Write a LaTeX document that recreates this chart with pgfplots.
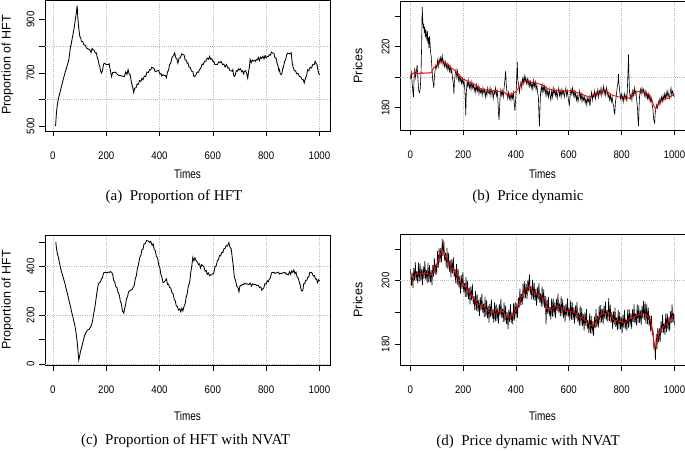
\documentclass[border=0pt]{standalone}
\usepackage{pgfplots}
\usepackage{pgfplotstable}
\pgfplotsset{compat=1.18}
\usepackage{fontspec}
\setmainfont{Liberation Serif}
\newfontfamily\rfont[FakeStretch=0.88]{Liberation Sans}
\newfontfamily\rlfont[FakeStretch=0.8]{Liberation Sans}
\newfontfamily\rvfont{Liberation Sans}
\newcommand\tfont{\rfont\fontsize{11}{13}\selectfont}
\newcommand\xlfont{\rlfont\fontsize{12.5}{14}\selectfont}
\newcommand\ylfont{\rvfont\fontsize{12.5}{14}\selectfont}
\newcommand\cfont{\fontsize{15}{17}\selectfont}

% (a) Proportion of HFT
\pgfplotstableread{
x y
10 500
13 545
16 575
20 600
25 620
30 640
35 660
40 680
45 698
50 715
55 732
60 750
65 790
70 815
75 842
80 870
85 905
88 925
91 952
94 900
97 868
101 836
104 833
107 818
112 817
117 804
122 803
126 793
130 791
135 788
139 786
143 776
147 791
151 786
155 785
159 774
163 775
167 756
170 748
173 731
176 724
179 706
182 699
186 708
190 733
195 736
199 731
203 731
207 731
211 734
215 712
220 686
224 701
228 701
233 703
238 699
243 693
248 690
253 691
258 688
263 687
268 686
273 703
278 694
282 712
286 696
290 693
295 662
299 648
303 626
307 643
312 644
316 658
320 656
325 671
330 668
334 679
338 674
343 688
348 686
353 703
358 701
363 712
367 711
371 721
376 718
380 715
384 704
388 706
393 708
397 709
401 696
405 698
409 688
413 693
417 690
421 691
426 682
430 703
434 711
438 731
442 736
447 758
452 764
457 775
461 756
465 753
469 736
473 755
478 756
483 771
488 768
492 768
496 748
500 748
504 736
507 737
511 721
515 721
520 706
525 706
528 688
532 686
536 691
541 703
546 702
550 712
555 718
560 733
564 731
569 743
574 744
579 755
584 751
588 762
592 751
596 753
600 743
604 743
608 731
613 731
617 731
622 741
626 738
631 743
636 731
641 733
646 722
651 731
656 718
660 719
664 708
668 708
672 706
675 712
678 691
681 687
684 691
688 708
692 706
696 715
700 711
704 715
708 704
712 708
715 696
719 706
723 708
727 698
731 680
734 703
737 721
740 750
744 738
748 748
752 744
756 747
760 743
763 750
767 748
771 758
775 746
779 759
783 754
788 762
792 752
796 765
800 756
804 761
808 761
812 768
816 766
820 778
825 774
829 773
833 756
837 756
841 736
845 725
848 708
850 712
853 696
856 693
859 696
862 715
865 721
869 743
873 748
877 768
881 774
885 773
889 771
894 775
898 736
902 718
906 708
910 708
915 696
920 698
925 686
930 685
935 674
939 675
943 662
947 678
952 691
956 712
960 708
965 721
970 718
975 731
980 731
984 743
987 736
991 731
995 706
1000 692
}\tA

% (c) Proportion of HFT with NVAT
\pgfplotstableread{
x y
11 500
14 470
17 452
20 441
24 420
28 398
32 380
36 365
40 350
45 332
49 312
53 295
57 277
61 258
65 240
70 215
74 198
78 178
82 160
86 135
89 110
91 92
94 55
97 16
100 30
103 48
107 64
111 82
116 105
120 119
124 128
128 136
132 140
136 142
141 152
145 160
149 178
153 205
157 229
161 260
165 292
170 325
174 334
178 336
182 349
186 354
190 374
195 376
199 376
203 374
207 377
212 376
216 380
220 376
224 370
228 344
232 336
236 318
240 314
245 293
249 284
253 258
257 246
261 218
266 208
270 232
273 244
276 267
280 276
284 296
288 300
292 304
296 304
301 315
305 321
309 349
313 362
317 392
321 408
326 438
330 446
334 469
338 471
342 494
347 494
351 507
355 506
359 504
363 499
367 504
372 488
376 493
380 471
384 466
388 444
393 434
397 406
401 397
405 368
409 356
413 334
417 336
421 341
426 349
430 326
434 328
438 314
442 312
447 291
451 288
455 266
459 259
463 238
467 236
471 221
476 226
480 214
484 229
488 218
492 236
496 246
500 274
504 288
508 319
513 334
517 374
521 401
525 438
529 424
533 436
538 423
542 419
546 408
550 411
554 394
558 408
563 403
567 399
571 381
575 384
579 368
583 374
588 362
592 366
596 366
600 370
604 374
608 399
613 403
617 424
621 428
625 445
629 444
634 459
638 458
642 474
646 474
650 486
655 484
660 498
664 481
669 473
673 436
677 399
681 355
685 344
690 318
694 315
698 296
702 322
706 321
710 326
715 326
720 332
725 328
730 329
735 326
740 332
745 320
750 329
755 326
760 326
765 322
770 324
775 314
780 316
784 302
787 308
791 311
795 329
800 328
804 342
808 338
812 349
816 354
820 374
825 376
829 376
833 372
837 374
841 374
846 377
850 369
854 372
858 372
862 374
866 374
871 376
875 369
879 369
883 366
888 379
892 368
896 382
900 376
904 386
908 371
912 377
916 358
920 354
925 334
928 324
932 301
935 299
938 304
941 329
945 331
949 344
953 344
956 356
960 358
964 376
968 376
972 374
977 361
981 363
985 348
989 349
993 334
997 346
1000 341
}\tC

% (b) price, black
\pgfplotstableread{
x y
1 199
4 203
7 196
10 190
12 187
14 198
17 206
20 200
23 204
26 208
29 198
32 191
35 190
38 193
41 205
43 222
45 246
47 238
49 232
51 235
53 229
55 233
57 226
59 231
61 228
63 224
65 230
67 222
69 226
71 219
73 227
75 221
77 216
79 214
81 208
83 203
85 198
87 196
89 193
91 200
94 205
97 208
100 206
103 211
106 207
109 212
112 209
115 213
118 210
121 214
124 208
127 211
130 207
133 210
136 206
139 209
142 205
145 208
148 204
151 207
154 203
157 205
160 199
163 196
165 189
167 197
170 202
173 205
176 200
179 204
182 198
185 201
188 197
191 200
194 196
197 199
200 195
203 198
206 193
208 186
210 175
212 190
215 197
218 194
221 198
224 193
227 196
230 192
233 197
236 193
239 195
242 191
245 194
248 190
251 195
254 191
257 194
260 189
263 193
266 190
269 192
272 188
275 193
278 190
281 192
284 187
287 191
290 188
293 193
296 190
299 189
302 193
305 188
308 192
311 190
314 186
317 191
320 189
323 193
326 188
329 191
332 184
334 176
336 172
338 180
340 187
343 192
346 188
349 191
352 187
355 193
358 198
361 204
363 196
366 190
369 186
372 190
375 186
378 189
381 185
384 189
387 186
390 190
393 184
396 178
399 186
402 196
405 210
407 198
410 195
413 190
416 194
419 197
422 193
425 199
428 196
431 201
434 197
437 200
440 196
443 199
446 195
449 198
452 194
455 197
458 193
461 196
464 192
467 198
470 194
473 197
476 192
479 195
482 190
485 187
487 175
489 168
491 180
493 189
496 194
499 190
502 195
505 191
508 194
511 189
514 193
517 188
520 191
523 187
526 192
529 188
532 185
535 191
538 187
541 193
544 189
547 192
550 188
553 191
556 186
559 190
562 193
565 188
568 191
571 187
574 192
577 189
580 191
583 187
586 190
589 193
592 188
595 191
598 186
600 184
602 181
605 188
608 192
611 189
614 193
617 188
620 191
623 187
626 190
629 185
632 188
635 184
638 187
641 191
644 186
647 189
650 184
653 188
656 185
659 187
662 183
665 186
668 182
671 186
674 184
677 187
680 181
683 186
686 190
689 185
692 189
695 187
698 191
701 186
704 190
707 188
710 192
713 187
716 191
719 189
722 193
725 188
728 191
731 194
734 189
737 192
740 188
743 193
746 190
749 187
752 189
755 185
758 188
761 184
764 187
767 183
770 181
772 177
774 176
777 184
780 188
783 193
786 196
788 202
790 196
793 190
796 186
799 189
802 185
805 188
808 184
811 189
814 186
817 188
820 184
823 198
825 208
826 215
828 200
830 190
833 186
836 189
839 185
842 191
845 188
848 193
851 189
854 191
857 185
860 180
862 172
864 168
866 180
868 188
871 192
874 189
877 193
880 190
883 192
886 188
889 191
892 187
895 190
898 186
901 189
904 185
907 188
910 184
913 186
916 182
919 178
921 173
923 171
925 170
927 176
930 180
933 182
936 180
939 184
942 182
945 186
948 183
951 187
954 184
957 188
960 185
963 189
966 186
969 190
972 187
975 191
978 188
981 186
984 190
987 193
990 188
993 191
996 189
999 187
}\tB

% (b) price, red (smoothed)
\pgfplotstableread{
x y
0 201
5 201.5
10 202.5
15 203
20 202
25 202.8
30 202.2
35 202.6
40 202.4
45 203
50 202.5
55 202.8
60 202.6
65 203
70 202.7
75 202.9
80 203.2
85 205
90 206.5
95 207
100 207.5
105 208.5
110 209.5
115 210
120 210.7
125 209.5
130 209
135 208.5
140 208.8
145 208
150 207
155 206
160 205.5
165 205
170 204
175 203
180 202.5
185 201.5
190 200.5
195 199.5
200 199
210 198
220 197
230 196.5
240 195.6
250 194.5
260 193
270 192.3
280 192
290 191.5
300 191.5
310 191
320 191.5
330 191
340 190.5
350 190.8
360 189.5
370 187.5
380 188
390 189.5
400 190.5
410 193
420 195.5
430 197
440 197.7
450 197.5
460 196.5
470 196.8
480 196
490 195.5
500 195
510 194
520 192.5
530 192
540 191.5
550 191.2
560 191.5
570 191
580 191.2
590 190.8
600 191
610 191.5
620 191
630 190
640 189.5
650 189
660 188
670 187.5
680 187
690 188
700 189
710 189.5
720 190
730 190.5
740 191.2
750 190
760 188.5
770 188
780 187.5
790 187
800 187
810 187
820 186.9
830 186
840 188
850 189.5
860 190.5
870 190.8
880 190.5
890 189.5
900 189
910 187.5
915 185
920 182
925 180
930 179.5
935 181
940 183
950 184.5
960 185.5
970 186
980 186.5
990 188
1000 188
}\tBr

% (d) price with NVAT, black
\pgfplotstableread{
x y
1 203.6
4 198.3
7 202.5
10 197.7
13 203.9
16 200.1
19 205.8
22 199.9
25 203.0
28 199.1
31 205.7
34 199.8
37 205.4
40 199.9
43 203.8
46 198.7
49 204.5
52 200.6
55 206.2
58 200.3
61 203.3
64 199.2
67 205.6
70 199.5
73 204.9
76 199.4
79 203.3
82 198.5
85 204.9
88 201.3
91 207.2
94 201.8
97 205.4
100 202.0
103 209.3
106 204.0
109 210.3
112 205.5
115 210.2
118 205.8
121 213.1
124 207.7
127 212.7
130 206.2
133 208.7
136 204.2
139 210.2
142 203.7
145 208.8
148 202.8
151 206.4
154 201.0
157 206.7
160 202.3
163 207.4
166 201.1
169 203.7
172 199.2
175 205.2
178 198.7
181 203.7
184 197.8
187 201.4
190 196.0
193 201.7
196 197.4
199 202.7
202 196.4
205 199.2
208 194.9
211 201.2
214 194.8
217 200.0
220 194.1
223 197.8
226 192.5
229 198.1
232 193.8
235 198.9
238 192.5
241 195.1
244 190.7
247 196.8
250 190.4
253 195.8
256 190.2
259 194.0
262 188.9
265 194.8
268 190.6
271 196.0
274 189.9
277 192.7
280 188.6
283 194.9
286 188.6
289 193.9
292 188.2
295 192.0
298 186.8
301 192.7
304 188.6
307 194.1
310 188.0
313 190.9
316 186.8
319 193.1
322 187.1
325 192.7
328 187.3
331 191.4
334 186.5
337 192.7
340 188.9
343 194.3
346 188.3
349 191.2
352 187.0
355 193.2
358 187.0
361 192.2
364 186.4
367 190.0
370 184.7
373 190.8
376 186.9
379 192.6
382 186.7
385 189.9
388 186.2
391 192.9
394 187.4
397 193.3
400 188.3
403 192.8
406 188.3
409 194.7
412 191.3
415 197.5
418 192.2
421 195.8
424 192.4
427 199.4
430 194.0
433 199.8
436 194.6
439 198.9
442 194.1
445 200.3
448 196.5
451 202.0
454 195.6
457 198.3
460 194.0
463 200.3
466 194.0
469 199.3
472 193.6
475 197.4
478 192.1
481 198.0
484 193.9
487 199.2
490 193.1
493 196.0
496 191.8
499 198.2
502 191.9
505 197.2
508 191.5
511 195.1
514 186.2
517 194.4
520 189.5
523 194.9
526 188.8
529 191.6
532 187.7
535 194.4
538 188.6
541 194.3
544 188.9
547 193.1
550 188.2
553 194.3
556 190.3
559 195.9
562 189.9
565 192.8
568 188.7
571 195.1
574 188.9
577 194.1
580 188.3
583 192.1
586 186.9
589 192.7
592 188.8
595 194.4
598 188.5
601 191.5
604 187.4
607 193.8
610 187.7
613 193.1
616 187.6
619 191.5
622 186.4
625 192.2
628 188.0
631 193.3
634 187.1
637 189.9
640 185.7
643 192.1
646 186.0
649 191.3
652 185.7
655 189.5
658 184.2
661 190.0
664 185.8
667 191.0
670 184.8
673 187.6
676 183.4
679 189.7
682 183.5
685 188.9
688 183.2
691 187.2
694 182.5
697 188.7
700 185.0
703 191.0
706 185.4
709 188.9
712 185.2
715 192.1
718 186.5
721 192.3
724 186.9
727 191.1
730 186.2
733 192.1
736 188.0
739 193.4
742 187.5
745 190.7
748 186.9
751 194.5
754 187.2
757 192.4
760 186.7
763 190.2
766 184.7
769 190.3
772 186.1
775 191.5
778 185.4
781 188.4
784 184.3
787 190.8
790 184.7
793 190.1
796 184.6
799 188.5
802 183.4
805 189.3
808 185.2
811 190.7
814 184.8
817 188.0
820 184.2
823 190.9
826 185.2
829 190.9
832 185.6
835 189.7
838 184.8
841 190.9
844 187.0
847 192.5
850 186.6
853 189.7
856 185.8
859 192.5
862 186.6
865 192.1
868 186.7
871 190.7
874 185.9
877 192.0
880 188.1
883 193.6
886 187.6
889 193.2
892 186.3
895 192.5
898 186.3
901 191.5
904 185.7
907 189.3
910 183.9
913 188.9
916 182.9
919 184.5
922 178.8
925 180.0
928 175.0
931 183.2
934 178.5
937 185.1
940 180.5
943 185.0
946 180.6
949 187.1
952 183.5
955 189.2
958 183.4
961 186.7
964 182.9
967 189.6
970 183.8
973 189.6
976 184.3
979 188.6
982 184.0
985 190.3
988 186.7
991 192.5
994 186.7
997 189.8
1000 186.0
}\tD

% (d) price with NVAT, red
\pgfplotstableread{
x y
0 200.5
10 201.2
20 201.8
30 202.2
40 202.4
50 202
60 202.3
70 202
80 201.8
90 203
100 205
110 207.5
120 209.8
130 208.2
140 206.5
150 205
160 203.8
170 202.6
180 200.8
190 199.5
200 198.6
210 197.8
220 196.6
230 195.5
240 194.2
250 192.9
260 192.5
270 192
280 191.6
290 190.8
300 190.2
310 190
320 189.6
330 189.8
340 190.4
350 190.2
360 189.3
370 188.2
380 188.6
390 189.3
400 190.8
410 192.4
420 194.6
430 196.5
440 197.5
450 198.1
460 197
470 196.2
480 195.5
490 195.1
500 194.6
510 193.9
520 191
530 190.6
540 191.3
550 191.7
560 191.9
570 191.6
580 190.8
590 190.2
600 190.5
610 190.2
620 190
630 189.4
640 188.7
650 188.3
660 187.6
670 186.8
680 186.2
690 185.6
700 186.5
710 188
720 189.2
730 189.7
740 189.4
750 190
760 189.2
770 187.6
780 187.4
790 187.2
800 187
810 186.6
820 187.2
830 188
840 188.4
850 188.6
860 189
870 189.2
880 189.6
890 189.5
900 188.6
910 187.4
915 185
920 182
925 179
930 179.2
935 181.5
940 183
950 184.8
960 185.6
970 186.3
980 187.2
990 188.4
1000 189
}\tDr

\pgfplotsset{
  rstyle/.style={
    scale only axis,
    axis line style={black, line width=0.7pt},
    tick style={black, line width=0.6pt},
    tick align=outside,
    major tick length=5.5pt,
    xtick pos=bottom, ytick pos=left,
    xtick={0,200,400,600,800,1000},
    xticklabels={0,200,400,600,800,1000},
    xmajorgrids,
    grid style={black!28, line width=0.5pt, dash pattern=on 0.7pt off 1.5pt},
    xticklabel style={font=\tfont, anchor=center, yshift=-19pt},
    yticklabel style={font=\tfont, anchor=center, xshift=-9pt, rotate=90},
    extra y tick labels={},
    extra y tick style={grid=major, major tick length=0pt},
  },
  blk/.style={black, line width=0.6pt, mark=none},
  blkt/.style={black, line width=0.85pt, mark=none},
  rd/.style={red, line width=0.9pt, mark=none},
}

\begin{document}
\begin{tikzpicture}
\useasboundingbox (0pt,0pt) rectangle (685pt,450pt);

% (a)
\begin{axis}[rstyle, at={(45pt,319pt)}, anchor=south west,
  width=285pt, height=131pt,
  xmin=-29.6, xmax=1039.6, ymin=482, ymax=973,
  ytick={500,600,700,800,900}, yticklabels={500,,700,,900},
  extra y ticks={600,800}]
\addplot[blkt] table[x=x,y=y] {\tA};
\end{axis}

% (b)
\begin{axis}[rstyle, at={(400pt,320pt)}, anchor=south west,
  width=285pt, height=128.3pt,
  xmin=-39, xmax=1040, ymin=165.4, ymax=249.5,
  ytick={180,200,220,240}, yticklabels={180,,220,},
  extra y ticks={200}]
\addplot[blk] table[x=x,y=y] {\tB};
\addplot[rd] table[x=x,y=y] {\tBr};
\end{axis}

% (c)
\begin{axis}[rstyle, at={(45pt,85pt)}, anchor=south west,
  width=285pt, height=130pt,
  xmin=-29.6, xmax=1039.6, ymin=-4.8, ymax=529.8,
  ytick={0,100,200,300,400,500}, yticklabels={0,,200,,400,},
  extra y ticks={0,200,400}]
\addplot[blkt] table[x=x,y=y] {\tC};
\end{axis}

% (d)
\begin{axis}[rstyle, at={(400pt,85pt)}, anchor=south west,
  width=285pt, height=130.7pt,
  xmin=-39, xmax=1040, ymin=173.4, ymax=214.6,
  ytick={180,190,200,210}, yticklabels={180,,200,},
  extra y ticks={200}]
\addplot[blk] table[x=x,y=y] {\tD};
\addplot[rd] table[x=x,y=y] {\tDr};
\end{axis}

% axis titles
\node[font=\xlfont] at (187.5pt,276pt) {Times};
\node[font=\xlfont] at (542.5pt,276pt) {Times};
\node[font=\xlfont] at (187.5pt,34pt) {Times};
\node[font=\xlfont] at (542.5pt,34pt) {Times};
\node[font=\ylfont, rotate=90, inner sep=0pt] at (7.5pt,385pt) {Proportion of HFT};
\node[font=\ylfont, rotate=90, inner sep=0pt] at (7.5pt,150pt) {Proportion of HFT};
\node[font=\ylfont, rotate=90] at (358pt,384pt) {Prices};
\node[font=\ylfont, rotate=90] at (358pt,150pt) {Prices};

% captions
\node[font=\cfont] at (174pt,253pt) {(a)\enspace Proportion of HFT};
\node[font=\cfont] at (528pt,253pt) {(b)\enspace Price dynamic};
\node[font=\cfont] at (185.5pt,9pt) {(c)\enspace Proportion of HFT with NVAT};
\node[font=\cfont] at (528pt,8pt) {(d)\enspace Price dynamic with NVAT};
\end{tikzpicture}
\end{document}
